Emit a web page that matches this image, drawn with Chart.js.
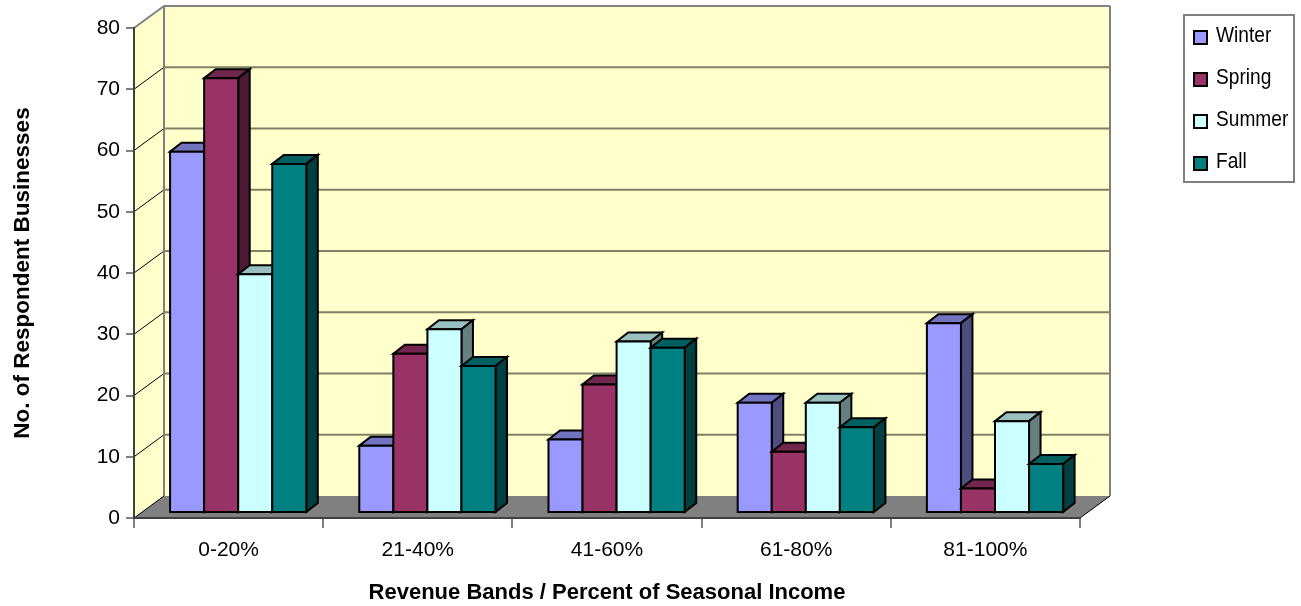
<!DOCTYPE html>
<html>
<head>
<meta charset="utf-8">
<title>Seasonal income</title>
<script src="https://cdn.jsdelivr.net/npm/chart.js@4"></script>
<style>
  html, body { margin: 0; padding: 0; background: #fff; }
  canvas { display: block; }
</style>
</head>
<body>
<canvas id="seasonChart" width="1301" height="606"></canvas>
<script>
const categories = ['0-20%', '21-40%', '41-60%', '61-80%', '81-100%'];
const winter = [59, 11, 12, 18, 31];
const spring = [71, 26, 21, 10, 4];
const summer = [39, 30, 28, 18, 15];
const fall = [57, 24, 27, 14, 8];

const seasonNames = ['Winter', 'Spring', 'Summer', 'Fall'];
const frontColors = ['#9999ff', '#993366', '#ccffff', '#008080'];
const topColors = ['#7373bf', '#73264d', '#99bfbf', '#006060'];
const sideColors = ['#4d4d80', '#4d1a33', '#668080', '#004040'];

const FONT = '"Liberation Sans", Arial, sans-serif';
const WALL = { dx: 30, dy: -22 };   // depth of the box
const BAR_SHIFT = { dx: 9.6, dy: -5 };  // bars stand a bit inside the box
const BAR_DEPTH = { dx: 11.5, dy: -9 };

function poly(ctx, pts, fill, stroke, lw) {
    ctx.beginPath();
    pts.forEach((p, i) => i ? ctx.lineTo(p[0], p[1]) : ctx.moveTo(p[0], p[1]));
    ctx.closePath();
    if (fill) { ctx.fillStyle = fill; ctx.fill(); }
    if (stroke) { ctx.strokeStyle = stroke; ctx.lineWidth = lw; ctx.stroke(); }
}

function line(ctx, x1, y1, x2, y2, color, lw) {
    ctx.beginPath();
    ctx.moveTo(x1, y1);
    ctx.lineTo(x2, y2);
    ctx.strokeStyle = color;
    ctx.lineWidth = lw;
    ctx.stroke();
}

const boxPlugin = {
    id: 'box3d',
    beforeDraw(chart) {
        const { ctx, chartArea: a, scales } = chart;
        const d = WALL;
        const top = a.top, bot = a.bottom, l = a.left, r = a.right;
        ctx.save();
        // walls
        poly(ctx, [[l, top], [l + d.dx, top + d.dy], [l + d.dx, bot + d.dy], [l, bot]], '#ffffcc');
        poly(ctx, [[l + d.dx, top + d.dy], [r + d.dx, top + d.dy], [r + d.dx, bot + d.dy], [l + d.dx, bot + d.dy]], '#ffffcc');
        // floor
        poly(ctx, [[l, bot], [l + d.dx, bot + d.dy], [r + d.dx, bot + d.dy], [r, bot]], '#808080');
        // gridlines round the wall corner
        scales.y.ticks.forEach(t => {
            if (t.value === 0 || t.value === 80) return;
            const y = scales.y.getPixelForValue(t.value);
            line(ctx, l, y, l + d.dx, y + d.dy, '#000000', 1);
            line(ctx, l + d.dx, y + d.dy, r + d.dx, y + d.dy, '#808066', 2);
        });
        // wall edges
        line(ctx, l, top, l + d.dx, top + d.dy, '#808080', 2);
        line(ctx, l + d.dx, top + d.dy, r + d.dx, top + d.dy, '#808080', 2);
        line(ctx, l + d.dx, top + d.dy, l + d.dx, bot + d.dy, '#808080', 2);
        line(ctx, r + d.dx, top + d.dy, r + d.dx, bot + d.dy, '#808080', 2);
        line(ctx, l, bot, l + d.dx, bot + d.dy, '#000000', 1);
        line(ctx, r, bot, r + d.dx, bot + d.dy, '#000000', 1);
        ctx.restore();
    },
    beforeDatasetsDraw(chart) {
        // left to right so each bar hides the side of the one before it
        const ctx = chart.ctx;
        ctx.save();
        ctx.translate(BAR_SHIFT.dx, BAR_SHIFT.dy);
        ctx.lineJoin = 'miter';
        chart.data.datasets.forEach((ds, di) => {
            chart.getDatasetMeta(di).data.forEach(bar => {
                const p = bar.getProps(['x', 'y', 'base', 'width'], true);
                const x0 = p.x - p.width / 2, x1 = p.x + p.width / 2;
                const dx = BAR_DEPTH.dx, dy = BAR_DEPTH.dy;
                poly(ctx, [[x0, p.y], [x0 + dx, p.y + dy], [x1 + dx, p.y + dy], [x1, p.y]], topColors[di], '#000', 2);
                poly(ctx, [[x1, p.y], [x1 + dx, p.y + dy], [x1 + dx, p.base + dy], [x1, p.base]], sideColors[di], '#000', 2);
                poly(ctx, [[x0, p.y], [x1, p.y], [x1, p.base], [x0, p.base]], frontColors[di], '#000', 2);
            });
        });
        ctx.restore();
        return false;
    },
    afterDraw(chart) {
        // legend box, right of the plot
        const ctx = chart.ctx;
        ctx.save();
        ctx.strokeStyle = '#808080';
        ctx.lineWidth = 2;
        ctx.strokeRect(1184, 15, 110, 167);
        ctx.font = '22px ' + FONT;
        ctx.textBaseline = 'middle';
        chart.data.datasets.forEach((ds, i) => {
            const y = 38 + i * 42;
            ctx.fillStyle = ds.backgroundColor;
            ctx.fillRect(1194, y - 7, 13, 13);
            ctx.strokeStyle = '#000';
            ctx.lineWidth = 2;
            ctx.strokeRect(1194, y - 7, 13, 13);
            ctx.fillStyle = '#000';
            ctx.save();
            ctx.translate(1216, y - 2);
            ctx.scale(0.87, 1);   // the legend text in the picture is narrow
            ctx.fillText(ds.label, 0, 0);
            ctx.restore();
        });
        ctx.restore();
    }
};

const seriesValues = [winter, spring, summer, fall];

new Chart(document.getElementById('seasonChart').getContext('2d'), {
    type: 'bar',
    data: {
        labels: categories,
        datasets: seasonNames.map((name, i) => ({
            label: name,
            data: seriesValues[i],
            backgroundColor: frontColors[i]
        }))
    },
    plugins: [boxPlugin],
    options: {
        responsive: false,
        animation: false,
        devicePixelRatio: 1,
        layout: { padding: { top: 28, right: 221, left: 0, bottom: 0 } },
        categoryPercentage: 0.72,
        barPercentage: 1,
        plugins: {
            legend: { display: false },
            tooltip: { enabled: false }
        },
        scales: {
            x: {
                afterFit(s) { s.height = 88; },
                grid: { display: true, drawOnChartArea: false, drawTicks: true, tickLength: 10, color: '#808080', lineWidth: 2 },
                border: { display: true, color: '#404040', width: 2 },
                ticks: { color: '#000', font: { family: FONT, size: 21 }, padding: 10, maxRotation: 0 },
                title: {
                    display: true,
                    text: 'Revenue Bands / Percent of Seasonal Income',
                    color: '#000',
                    font: { family: FONT, size: 22, weight: 'bold' },
                    padding: { top: 0, bottom: 0 }
                }
            },
            y: {
                min: 0,
                max: 80,
                afterFit(s) { s.width = 134; },
                grid: { display: true, drawOnChartArea: false, drawTicks: true, tickLength: 8, color: '#808080', lineWidth: 2 },
                border: { display: true, color: '#404040', width: 2 },
                ticks: { stepSize: 10, color: '#000', font: { family: FONT, size: 21 }, padding: 6 },
                title: {
                    display: true,
                    text: 'No. of Respondent Businesses',
                    color: '#000',
                    font: { family: FONT, size: 22.5, weight: 'bold' },
                    padding: { top: 9, bottom: 0 }
                }
            }
        }
    }
});
</script>
</body>
</html>
